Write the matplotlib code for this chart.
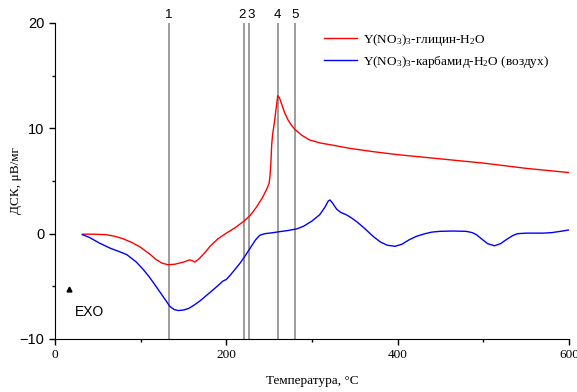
import matplotlib
matplotlib.use("Agg")
import matplotlib.pyplot as plt

# Red: Y(NO3)3-glycine-H2O
red_x = [32, 45, 60, 70, 80, 90, 100, 110, 118, 125, 132, 140, 150, 157, 160, 163, 168, 175, 181, 190,
         200, 210, 220, 228, 235, 242, 247, 250, 251, 252, 253, 254, 256, 258, 260, 262, 265, 268, 272,
         276, 280, 288, 297, 310, 321, 344, 370, 400, 425, 450, 475, 500, 525, 550, 575, 600]
red_y = [-0.05, -0.05, -0.1, -0.25, -0.5, -0.85, -1.3, -1.9, -2.45, -2.8, -2.95, -2.9, -2.7, -2.5, -2.55,
         -2.7, -2.4, -1.8, -1.2, -0.5, 0.05, 0.55, 1.15, 1.75, 2.5, 3.4, 4.2, 4.8, 5.5, 6.7, 8.5, 9.4,
         10.5, 11.8, 13.1, 12.9, 12.2, 11.5, 10.8, 10.3, 9.9, 9.35, 8.9, 8.6, 8.45, 8.1, 7.8, 7.5, 7.3,
         7.1, 6.9, 6.7, 6.45, 6.2, 6.0, 5.8]

# Blue: Y(NO3)3-carbamide-H2O (air)
blue_x = [32, 40, 52, 65, 75, 84, 95, 103, 110, 117, 123, 129, 134, 139, 144, 150, 156, 162, 169, 177,
          185, 192, 196, 200, 205, 210, 216, 222, 228, 234, 239, 245, 255, 263, 272, 282, 290, 300, 309,
          315, 319, 321, 324, 329, 334, 340, 346, 352, 360, 366, 372, 380, 388, 397, 405, 413, 422, 432,
          440, 449, 465, 480, 487, 492, 498, 505, 513, 520, 528, 535, 540, 550, 560, 570, 580, 590, 600]
blue_y = [-0.1, -0.35, -0.9, -1.4, -1.7, -2.0, -2.7, -3.4, -4.1, -4.9, -5.6, -6.3, -6.9, -7.2, -7.3,
          -7.25, -7.1, -6.8, -6.4, -5.85, -5.3, -4.8, -4.5, -4.35, -3.9, -3.4, -2.8, -2.1, -1.35, -0.6,
          -0.15, 0.0, 0.1, 0.2, 0.3, 0.45, 0.7, 1.2, 1.8, 2.5, 3.1, 3.2, 2.9, 2.3, 2.0, 1.8, 1.5, 1.15,
          0.6, 0.15, -0.3, -0.8, -1.1, -1.2, -1.0, -0.6, -0.25, 0.0, 0.15, 0.22, 0.25, 0.22, 0.1, -0.1,
          -0.5, -0.95, -1.15, -0.95, -0.5, -0.15, 0.0, 0.05, 0.05, 0.05, 0.1, 0.22, 0.35]

vlines_x = [133, 221, 226, 260, 280]
vlines_lbl = ["1", "2", "3", "4", "5"]
vlines_lbl_x = [133, 218, 229, 260, 280]

x_ticks = [0, 200, 400, 600]
y_ticks = [-10, 0, 10, 20]

serif = "Liberation Serif"
sans = "Liberation Sans"
plt.rcParams["mathtext.fontset"] = "custom"
plt.rcParams["mathtext.rm"] = serif
plt.rcParams["mathtext.it"] = serif + ":italic"
plt.rcParams["mathtext.bf"] = serif + ":bold"

fig = plt.figure(figsize=(5.77, 3.92), dpi=100)
ax = fig.add_axes([55/577, 1-339/392, (569-55)/577, (339-23)/392])

ax.plot(red_x, red_y, color="#ff0000", lw=1.0,
        label=r"Y(NO$_3$)$_3$-глицин-H$_2$O")
ax.plot(blue_x, blue_y, color="#0000ff", lw=1.0,
        label=r"Y(NO$_3$)$_3$-карбамид-H$_2$O (воздух)")

for xv in vlines_x:
    ax.axvline(xv, color="#8c8c8c", lw=1.2, zorder=0)
for lx, lb in zip(vlines_lbl_x, vlines_lbl):
    ax.text(lx, 20.8, lb, ha="center", va="center", fontsize=9.5,
            family=sans, clip_on=False)

ax.set_xlim(0, 600)
ax.set_ylim(-10, 20)
ax.set_xticks(x_ticks)
ax.set_yticks(y_ticks)
ax.set_xticks([100, 300, 500], minor=True)
ax.set_yticks([-5, 5, 15], minor=True)
ax.tick_params(which="major", direction="out", length=4, width=1)
ax.tick_params(which="minor", direction="out", length=2.5, width=1)
for lab in ax.get_xticklabels():
    lab.set_family(serif)
    lab.set_fontsize(9.5)
for lab in ax.get_yticklabels():
    lab.set_family(sans)
    lab.set_fontsize(10.5)
ax.spines["top"].set_visible(False)
ax.spines["right"].set_visible(False)

ax.set_xlabel("Температура, °C", family=serif, fontsize=9.5, labelpad=10)
ax.set_ylabel("ДСК, μВ/мг", family=serif, fontsize=9.5, labelpad=-2)

ax.text(23, -7.4, "EXO", family=sans, fontsize=10, ha="left", va="center")
ax.plot([16], [-5.3], marker="^", color="black", markersize=3.5)

leg = ax.legend(loc="upper left", bbox_to_anchor=(0.5, 1.01), frameon=False,
                prop={"family": serif, "size": 9.5}, handlelength=2.5,
                labelspacing=0.45, handletextpad=0.5)

fig.savefig("out.png", dpi=100)
